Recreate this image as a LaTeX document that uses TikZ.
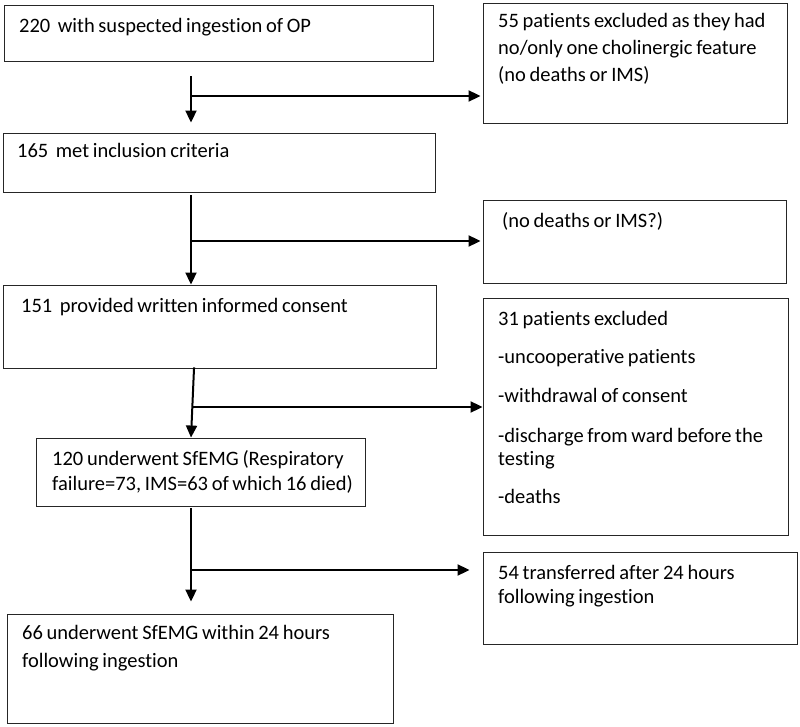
\documentclass[tikz,border=0pt]{standalone}
\usepackage{fontspec}
\setmainfont[Ligatures=NoCommon, WordSpace=0.8]{Carlito}
\usetikzlibrary{arrows.meta}
\begin{document}
\begin{tikzpicture}[x=1pt,y=-1pt,
  box/.style={draw=black!85, line width=0.9pt, inner sep=0pt},
  txt/.style={anchor=base west, inner sep=0pt, font=\fontsize{20.5}{24}\selectfont},
  flow/.style={line width=2pt, -{Triangle[length=12pt,width=11pt]}},
  line/.style={line width=2pt}]
\useasboundingbox (0,0) rectangle (800,727);
% boxes (corner coordinates)
\newcommand{\mybox}[5]{\node[box, minimum width={#4-#2}, minimum height={#5-#3}] (#1) at ({(#2+#4)/2},{(#3+#5)/2}) {};}
\mybox{b1}{4}{5}{433}{61}
\mybox{b2}{3}{133}{435}{192}
\mybox{b3}{3}{285}{436}{368}
\mybox{b4}{36}{438}{365}{506}
\mybox{b5}{7}{614}{393}{723}
\mybox{e1}{483}{3}{787}{123}
\mybox{e2}{483}{200}{786}{283}
\mybox{e3}{483}{298}{788}{535}
\mybox{e4}{483}{552}{797}{644}
% texts
\node[txt] (t1) at (19,33) {220\ \ with suspected ingestion of OP};
\node[txt] (t2) at (17,158) {165\ \ met inclusion criteria};
\node[txt] (t3) at (21,312) {151\ \ provided written informed consent};
\node[txt] (t4a) at (52,465) {120 underwent SfEMG (Respiratory};
\node[txt] (t4b) at (52,490) {failure=73, IMS=63 of which 16 died)};
\node[txt] (t5a) at (22,639) {66 underwent SfEMG within 24 hours};
\node[txt] (t5b) at (22,667) {following ingestion};
\node[txt] (s1a) at (498,28) {55 patients excluded as they had};
\node[txt] (s1b) at (498,55) {no/only one cholinergic feature};
\node[txt] (s1c) at (498,82) {(no deaths or IMS)};
\node[txt] (s2) at (502,228) {(no deaths or IMS?)};
\node[txt] (s3a) at (498,325) {31 patients excluded};
\node[txt] (s3b) at (498,363) {-uncooperative patients};
\node[txt] (s3c) at (498,402) {-withdrawal of consent};
\node[txt] (s3d) at (498,442) {-discharge from ward before the};
\node[txt] (s3e) at (498,465) {testing};
\node[txt] (s3f) at (498,503) {-deaths};
\node[txt] (s4a) at (498,579) {54 transferred after 24 hours};
\node[txt] (s4b) at (498,603) {following ingestion};
% spine and junctions
\coordinate (sp) at (191,0);
\coordinate (j1) at (191,96);
\coordinate (j2) at (191,241);
\coordinate (j3) at (193,407);
\coordinate (j4) at (191,570);
% connectors
\draw[flow, shorten <=15pt, shorten >=10pt] (b1.south -| sp) -- (b2.north -| sp);
\draw[flow, shorten >=2pt] (j1) -- (e1.west |- j1);
\draw[flow, shorten <=3pt] (b2.south -| sp) -- (b3.north -| sp);
\draw[flow, shorten >=2pt] (j2) -- (e2.west |- j2);
\draw[flow, shorten <=-1pt] ([xshift=3pt]b3.south -| sp) -- (b4.north -| sp);
\draw[flow] (j3) -- (e3.west |- j3);
\draw[flow, shorten <=2pt, shorten >=12pt] (b4.south -| sp) -- (b5.north -| sp);
\draw[flow, shorten >=13pt] (j4) -- (e4.west |- j4);
\end{tikzpicture}
\end{document}
